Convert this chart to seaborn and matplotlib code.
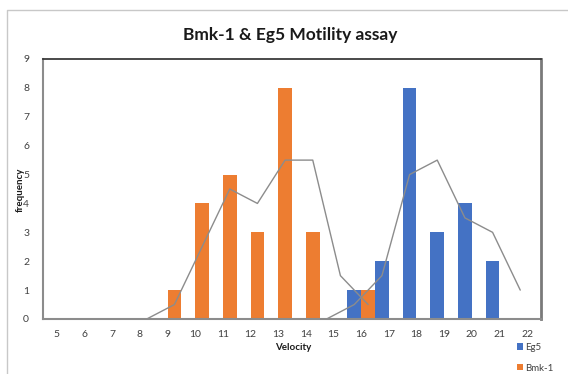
import matplotlib
matplotlib.use('Agg')
import matplotlib.pyplot as plt
import seaborn as sns
import pandas as pd
import numpy as np
from matplotlib.patches import Patch
from matplotlib.lines import Line2D

# --- data ---
velocity = [5, 6, 7, 8, 9, 10, 11, 12, 13, 14, 15, 16, 17, 18, 19, 20, 21, 22]
eg5 = [0, 0, 0, 0, 0, 0, 0, 0, 0, 0, 0, 1, 2, 8, 3, 4, 2, 0]
bmk1 = [0, 0, 0, 0, 1, 4, 5, 3, 8, 3, 0, 1, 0, 0, 0, 0, 0, 0]
# velocity range over which each 2-period moving-average trendline is drawn
eg5_trend_range = (15, 22)
bmk1_trend_range = (8, 16)

series_names = ['Eg5', 'Bmk-1']
colors = {'Eg5': '#4472c4', 'Bmk-1': '#ed7d31'}

sns.set_style('white')
plt.rcParams['font.family'] = ['Lato', 'DejaVu Sans']

df = pd.DataFrame({
    'Velocity': velocity * 2,
    'frequency': eg5 + bmk1,
    'series': ['Eg5'] * len(velocity) + ['Bmk-1'] * len(velocity),
})

W, H = 568, 374
fig = plt.figure(figsize=(W / 100, H / 100), dpi=100)
left, right, top, bottom = 43, 541, 59, 319
ax = fig.add_axes([left / W, 1 - bottom / H, (right - left) / W, (bottom - top) / H])

sns.barplot(data=df, x='Velocity', y='frequency', hue='series', hue_order=series_names,
            palette=colors, saturation=1, width=1.0, dodge=True, linewidth=0,
            errorbar=None, legend=False, ax=ax)

# moving-average trendlines (period 2), drawn at the centre of each series' bar
pos = np.arange(len(velocity))
for name, vals, rng, off in [('Bmk-1', bmk1, bmk1_trend_range, 0.25),
                             ('Eg5', eg5, eg5_trend_range, -0.25)]:
    ma = pd.Series(vals).rolling(2).mean()
    v = np.array(velocity)
    mask = (v >= rng[0]) & (v <= rng[1])
    sns.lineplot(x=pos[mask] + off, y=ma[mask].values, color='#8c8c8c', linewidth=1.0,
                 ax=ax, legend=False)

ax.set_xlim(-0.5, len(velocity) - 0.5)
ax.set_ylim(0, 9)
ax.set_yticks(range(0, 10))
ax.set_xticks(pos)
ax.set_xticklabels([str(v) for v in velocity])
ax.set_xticks(np.arange(-0.5, len(velocity), 1), minor=True)
ax.tick_params(axis='x', which='major', length=0, pad=8, labelsize=7.5, labelcolor='#404040')
ax.tick_params(axis='x', which='minor', length=4, width=1, color='#8c8c8c', direction='out')
ax.tick_params(axis='y', length=4, width=1, color='#8c8c8c', direction='out', pad=6,
               labelsize=7.5, labelcolor='#404040')
ax.set_xlabel('')
ax.set_ylabel('')

for s in ['left', 'bottom']:
    ax.spines[s].set_color('#8c8c8c')
    ax.spines[s].set_linewidth(1.5)
ax.spines['top'].set_color('#3a3a3a')
ax.spines['top'].set_linewidth(1.3)
ax.spines['right'].set_color('#7a7a7a')
ax.spines['right'].set_linewidth(2)

fig.text(290 / W, 1 - 35 / H, 'Bmk-1 & Eg5 Motility assay', ha='center', va='center',
         fontsize=12.5, fontweight='bold', color='#1a1a1a')
fig.text(293 / W, 1 - 348 / H, 'Velocity', ha='center', va='center',
         fontsize=7, fontweight='bold', color='#1a1a1a')
fig.text(20 / W, 1 - 190 / H, 'frequency', ha='center', va='center', rotation=90,
         fontsize=7, fontweight='bold', color='#1a1a1a')

# outer chart frame (only left and top edges visible)
fig.add_artist(Line2D([7 / W, 7 / W, 1], [0, 1 - 10 / H, 1 - 10 / H],
                      transform=fig.transFigure, color='#c8c8c8', linewidth=1))

handles = [Patch(facecolor=colors[n], edgecolor='none') for n in series_names]
fig.legend(handles, series_names, loc='upper left', bbox_to_anchor=(512 / W, 1 - 338 / H),
           frameon=False, fontsize=7, labelcolor='#404040', handlelength=0.6,
           handleheight=0.6, handletextpad=0.3, labelspacing=1.2, borderpad=0)

fig.savefig('out.png', dpi=100)
